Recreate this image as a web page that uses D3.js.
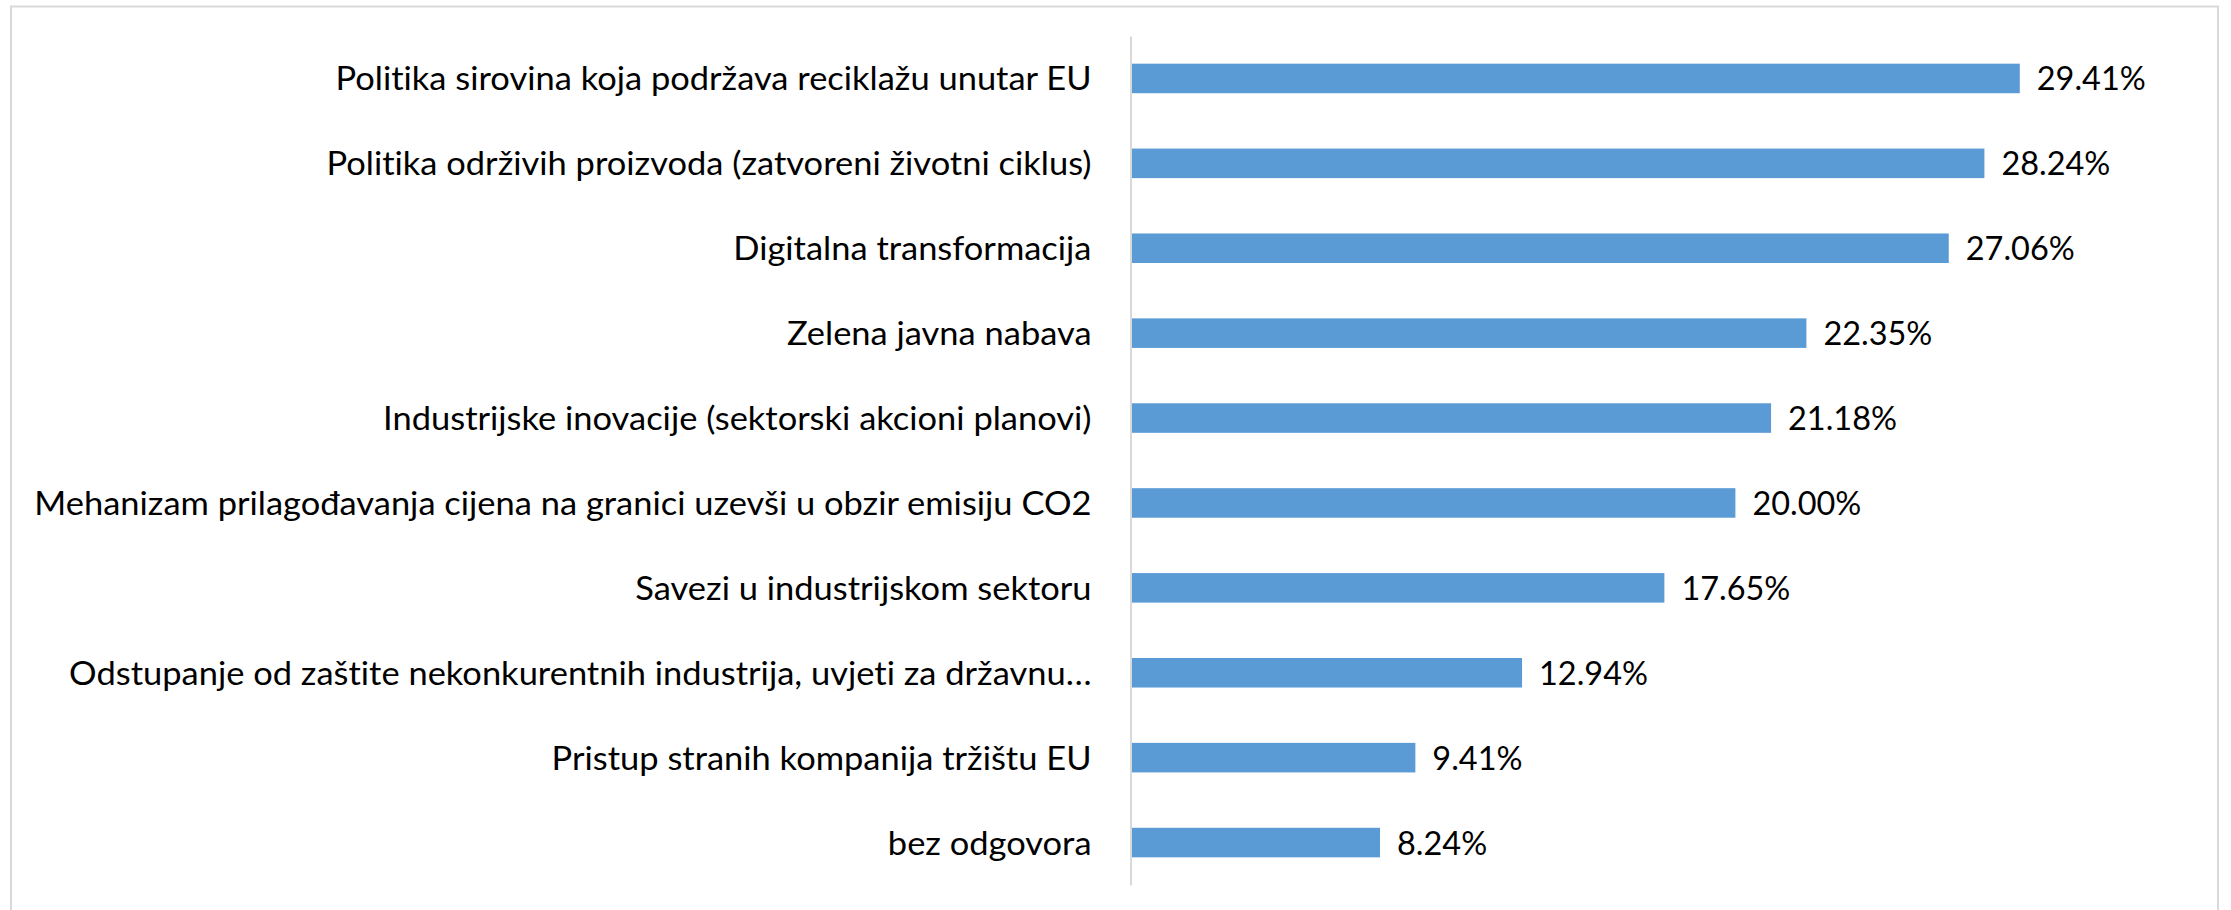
<!DOCTYPE html>
<html>
<head>
<meta charset="utf-8">
<script src="https://cdn.jsdelivr.net/npm/d3@7"></script>
<style>
  html, body { margin: 0; padding: 0; background: #fff; }
  svg { display: block; }
  text { font-variant-ligatures: none; font-feature-settings: "liga" 0, "clig" 0; }
</style>
</head>
<body>
<svg id="chart" width="2231" height="910"></svg>
<script>
const categories = [
  "Politika sirovina koja podržava reciklažu unutar EU",
  "Politika održivih proizvoda (zatvoreni životni ciklus)",
  "Digitalna transformacija",
  "Zelena javna nabava",
  "Industrijske inovacije (sektorski akcioni planovi)",
  "Mehanizam prilagođavanja cijena na granici uzevši u obzir emisiju CO2",
  "Savezi u industrijskom sektoru",
  "Odstupanje od zaštite nekonkurentnih industrija, uvjeti za državnu…",
  "Pristup stranih kompanija tržištu EU",
  "bez odgovora"
];
const values = [29.41, 28.24, 27.06, 22.35, 21.18, 20.00, 17.65, 12.94, 9.41, 8.24];
const xDomain = [0, 35];

const FONT = "Lato, 'Open Sans', sans-serif";
const FS = 33;
const svg = d3.select("#chart");

// chart border
svg.append("rect")
  .attr("x", 11).attr("y", 6.5)
  .attr("width", 2207).attr("height", 940)
  .attr("fill", "#fff").attr("stroke", "#D9D9D9").attr("stroke-width", 2);

const axisX = 1130.5;
const x = d3.scaleLinear().domain(xDomain).range([axisX, axisX + 35 * 30.22]);
const y = d3.scaleBand().domain(categories).range([36, 885]).paddingInner(0.652).paddingOuter(0.326);

// bars
svg.append("g").selectAll("rect")
  .data(values)
  .join("rect")
  .attr("x", x(0) + 0.5)
  .attr("y", (d, i) => y(categories[i]))
  .attr("width", d => x(d) - x(0))
  .attr("height", y.bandwidth())
  .attr("fill", "#5B9BD5");

// category axis
const gAxis = svg.append("g")
  .attr("transform", `translate(${axisX},0)`)
  .call(d3.axisLeft(y).tickSize(0).tickPadding(39));
gAxis.select(".domain").attr("stroke", "#D9D9D9").attr("stroke-width", 2);
gAxis.selectAll(".tick text")
  .attr("font-family", FONT)
  .attr("font-size", FS)
  .attr("fill", "#000")
  .attr("dy", null)
  .attr("y", 12)
  .attr("dominant-baseline", "alphabetic");

// scale category labels horizontally to match the reference metrics
const texts = gAxis.selectAll(".tick text").nodes();
const w0 = texts[0].getComputedTextLength();
const kCat = 756 / w0;
texts.forEach(t => {
  const w = t.getComputedTextLength();
  d3.select(t).attr("textLength", w * kCat).attr("lengthAdjust", "spacingAndGlyphs");
});

// value labels
const fmt = d => d.toFixed(2) + "%";
const vl = svg.append("g").selectAll("text")
  .data(values)
  .join("text")
  .attr("x", d => x(d) + 17.5)
  .attr("y", (d, i) => y(categories[i]) + y.bandwidth() / 2 + 12)
  .attr("font-family", FONT)
  .attr("font-size", FS)
  .attr("fill", "#000")
  .text(fmt);
const vn = vl.nodes();
const kVal = 109 / vn[0].getComputedTextLength();
vn.forEach(t => {
  const w = t.getComputedTextLength();
  d3.select(t).attr("textLength", w * kVal).attr("lengthAdjust", "spacingAndGlyphs");
});
</script>
</body>
</html>
